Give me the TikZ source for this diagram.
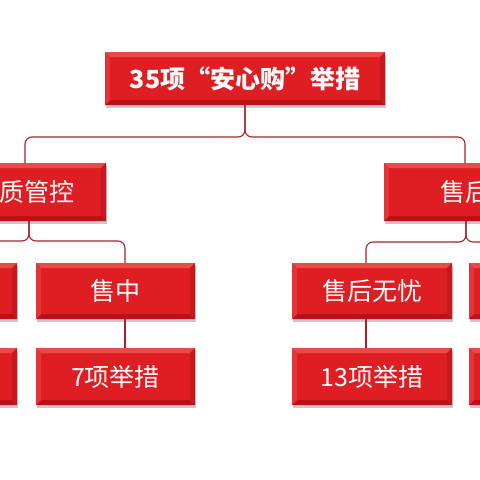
\documentclass[tikz,border=0pt]{standalone}
\usepackage{fontspec}
\setmainfont{Noto Sans CJK SC}
\usetikzlibrary{calc,shadows}
\definecolor{face}{RGB}{222,30,34}
\definecolor{bvtop}{RGB}{234,74,74}
\definecolor{bvleft}{RGB}{228,52,54}
\definecolor{bvright}{RGB}{200,24,30}
\definecolor{bvbot}{RGB}{184,18,24}
\definecolor{linecol}{RGB}{170,32,42}
\newcommand\ppb{path picture bounding box}
\begin{document}
\begin{tikzpicture}[x=1pt,y=-1pt,
  box/.style={fill=face, inner sep=0pt, outer sep=0pt, anchor=north west,
    text=white, font=\fontsize{25}{28}\selectfont,
    drop shadow={shadow xshift=1pt,shadow yshift=-2.5pt,opacity=0.3,fill=black!70},
    path picture={
      \fill[bvtop] (\ppb.north west) -- (\ppb.north east) -- ([shift={(-5pt,-5pt)}]\ppb.north east) -- ([shift={(5pt,-5pt)}]\ppb.north west) -- cycle;
      \fill[bvbot] (\ppb.south west) -- (\ppb.south east) -- ([shift={(-5pt,5pt)}]\ppb.south east) -- ([shift={(5pt,5pt)}]\ppb.south west) -- cycle;
      \fill[bvleft] (\ppb.north west) -- ([shift={(5pt,-5pt)}]\ppb.north west) -- ([shift={(5pt,5pt)}]\ppb.south west) -- (\ppb.south west) -- cycle;
      \fill[bvright] (\ppb.north east) -- ([shift={(-5pt,-5pt)}]\ppb.north east) -- ([shift={(-5pt,5pt)}]\ppb.south east) -- (\ppb.south east) -- cycle;
    }},
  conn/.style={draw=linecol, line width=1.1pt, rounded corners=7pt}]
\useasboundingbox[fill=white] (0,0) rectangle (480,480);
\clip (0,0) rectangle (480,480);
% nodes
\node[box, minimum width=280pt, minimum height=53pt, font=\fontsize{25}{28}\selectfont\bfseries] (top) at (105,52) {35项“安心购”举措};
\node[box, minimum width=162pt, minimum height=58pt] (L2) at (-56,163) {品质管控};
\node[box, minimum width=162pt, minimum height=58pt] (R2) at (384,163) {售后};
\node[box, minimum width=159pt, minimum height=56pt] (L3a) at (-142,263) {};
\node[box, minimum width=159pt, minimum height=56pt] (L3b) at (36,263) {售中};
\node[box, minimum width=160pt, minimum height=56pt] (R3a) at (292,263) {售后无忧};
\node[box, minimum width=159pt, minimum height=56pt] (R3b) at (469,263) {};
\node[box, minimum width=159pt, minimum height=57pt] (L4a) at (-142,348) {};
\node[box, minimum width=159pt, minimum height=57pt] (L4b) at (36,348) {7项举措};
\node[box, minimum width=160pt, minimum height=57pt] (R4a) at (292,348) {13项举措};
\node[box, minimum width=159pt, minimum height=57pt] (R4b) at (469,348) {};
% top brace
\draw[conn] (L2.north) |- ($(top.south)+(0,32)$) -- (top.south);
\draw[conn] (R2.north) |- ($(top.south)+(0,32)$) -- (top.south);
% left brace
\draw[conn] ($(L3a.north)+(-4,0)$) |- ($(L2.south)+(4,20)$) -- ($(L2.south)+(4,0)$);
\draw[conn] ($(L3b.north)+(9.5,0)$) |- ($(L2.south)+(4,20)$) -- ($(L2.south)+(4,0)$);
% right brace
\draw[conn] ($(R3a.north)+(-6,0)$) |- ($(R2.south)+(1,21)$) -- ($(R2.south)+(1,0)$);
\draw[conn] ($(R3b.north)+(17,0)$) |- ($(R2.south)+(1,21)$) -- ($(R2.south)+(1,0)$);
% verticals
\draw[conn] ($(L3a.south)+(-4,0)$) -- ($(L4a.north)+(-4,0)$);
\draw[conn] ($(L3b.south)+(9.5,0)$) -- ($(L4b.north)+(9.5,0)$);
\draw[conn] ($(R3a.south)+(-6,0)$) -- ($(R4a.north)+(-6,0)$);
\draw[conn] ($(R3b.south)+(17,0)$) -- ($(R4b.north)+(17,0)$);
\end{tikzpicture}
\end{document}
